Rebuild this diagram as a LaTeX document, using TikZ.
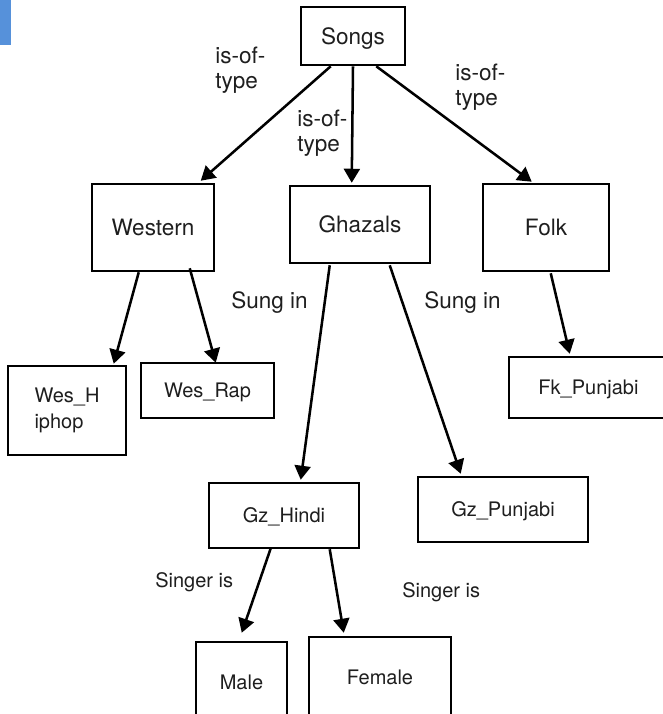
\documentclass[tikz,border=0pt]{standalone}
\usepackage{fontspec}
\setmainfont{TeX Gyre Heros}
\usetikzlibrary{arrows.meta,calc}
\definecolor{barblue}{RGB}{86,145,218}
\definecolor{ink}{RGB}{30,30,30}
\begin{document}
\begin{tikzpicture}[x=0.75pt,y=-0.75pt,
  box/.style={draw=black, line width=1.9pt, rectangle, inner sep=0pt, text=ink},
  bigtext/.style={font=\fontsize{16.9}{19}\selectfont, text height=12.2pt, text depth=0pt},
  smalltext/.style={font=\fontsize{15}{20}\selectfont, text height=10.8pt, text depth=0pt},
  lbl/.style={inner sep=0pt, text=ink, align=left},
  biglbl/.style={lbl, font=\fontsize{16.9}{19}\selectfont},
  smalllbl/.style={lbl, font=\fontsize{15}{20}\selectfont},
  arr/.style={line width=1.9pt, -{Triangle[length=10.5pt,width=12pt]}},
]
\useasboundingbox (0,0) rectangle (663,714);
\clip (0,0) rectangle (663,714);

% side tab
\fill[barblue] (0,0) rectangle (11,45);

% category boxes
\node[box, bigtext, minimum width=78pt,   minimum height=43.5pt]  (songs)   at (353,36)    {Songs};
\node[box, bigtext, minimum width=91.5pt, minimum height=65.25pt] (western) at (153,227.5) {Western};
\node[box, bigtext, minimum width=105pt,  minimum height=57.75pt] (ghazals) at (360,224.5) {Ghazals};
\node[box, bigtext, minimum width=94.5pt, minimum height=65.25pt] (folk)    at (546,227.5) {Folk};

% sub-category boxes
\node[box, font=\fontsize{15}{20}\selectfont, align=left,
      minimum width=88.5pt, minimum height=66.75pt]                (weship)  at (67,410.5)  {Wes\_H\\iphop};
\node[box, smalltext, minimum width=99.75pt,  minimum height=41.25pt] (wesrap)  at (207.5,390.5) {Wes\_Rap};
\node[box, smalltext, minimum width=119.25pt, minimum height=45.75pt] (fkpun)   at (588.5,387.5) {Fk\_Punjabi};
\node[box, smalltext, minimum width=112.5pt,  minimum height=48.75pt] (gzhindi) at (284,515.5)   {Gz\_Hindi};
\node[box, smalltext, minimum width=127.5pt,  minimum height=48.75pt] (gzpun)   at (503,509.5)   {Gz\_Punjabi};
\node[box, smalltext, minimum width=68.25pt,  minimum height=60pt]    (male)    at (241.5,682)   {Male};
\node[box, smalltext, minimum width=106.5pt,  minimum height=60.75pt] (female)  at (380,677.5)   {Female};

% connectors
\draw[arr] ($(songs.south west)+(31,0)$)   -- ($(western.north west)+(110,-2)$);
\draw[arr] (songs.south)                    -- ($(ghazals.north west)+(63,-2)$);
\draw[arr] ($(songs.south east)+(-30,0)$)  -- ($(folk.north west)+(50,-1)$);
\draw[arr] ($(western.south west)+(48,0)$) -- ($(weship.north west)+(107,-1)$);
\draw[arr] ($(western.south west)+(99,-4)$) -- ($(wesrap.north west)+(76,1)$);
\draw[arr] ($(ghazals.south west)+(41,1)$) -- ($(gzhindi.north west)+(93,-2)$);
\draw[arr] ($(ghazals.south west)+(101,1)$) -- ($(gzpun.north west)+(44,-2)$);
\draw[arr] ($(folk.south west)+(69,1)$)    -- ($(fkpun.north west)+(62,-2)$);
\draw[arr] ($(gzhindi.south west)+(63,-1)$) -- ($(male.north west)+(47,-8)$);
\draw[arr] ($(gzhindi.south west)+(122,0)$) -- ($(female.north west)+(36,-3)$);

% relation labels
\node[biglbl, anchor=north west] (rel1) at (215,46.5) {is-of-\\type};
\node[biglbl, anchor=north west] (rel2) at (297,109.5) {is-of-\\type};
\node[biglbl, anchor=north west] (rel3) at (455,63.5) {is-of-\\type};
\node[biglbl, anchor=base west] (sung1) at (231,308) {Sung in};
\node[biglbl, anchor=base west] (sung2) at (424,308) {Sung in};
\node[smalllbl, anchor=base west] (sing1) at (155,587) {Singer is};
\node[smalllbl, anchor=base west] (sing2) at (402,597) {Singer is};
\end{tikzpicture}
\end{document}
